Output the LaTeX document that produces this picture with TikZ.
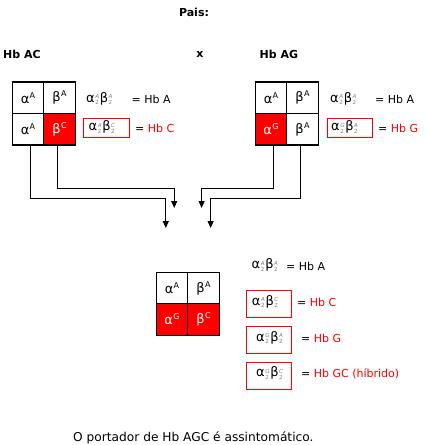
\documentclass[tikz,border=0pt]{standalone}
\usepackage{fontspec}
\setmainfont{DejaVu Sans}
\usetikzlibrary{arrows.meta}
\definecolor{hbred}{RGB}{255,0,0}
\definecolor{scrgray}{RGB}{128,128,128}
\newcommand\scr[2]{\kern0.6pt\raisebox{-2.8pt}{\fontsize{5.6}{6.2}\selectfont\color{scrgray}\begin{tabular}[b]{@{}l@{}}\textit{#1}\\#2\end{tabular}}\kern0.6pt}
\newcommand\gk[1]{{\fontsize{13}{13}\selectfont #1}}
\newcommand\fml[4]{\gk{α}\scr{#1}{#2}\gk{β}\scr{#3}{#4}}
\newcommand\cl[2]{\gk{#1}\kern0.3pt\raisebox{5pt}{\fontsize{8}{8}\selectfont #2}}
\begin{document}
\begin{tikzpicture}[x=1pt,y=-1pt,
  every node/.style={font=\fontsize{11}{13}\selectfont, inner sep=0pt},
  cell/.style={draw=black, line width=1.2pt, minimum size=31.5pt, fill=white},
  redcell/.style={cell, fill=hbred, text=white},
  hbbox/.style={draw=hbred, line width=0.9pt, minimum width=45.4pt, minimum height=19pt},
  bold/.style={font=\fontsize{11}{13}\selectfont\bfseries},
  conn/.style={line width=0.9pt, -{Triangle[length=7pt,width=6pt]}}
]
\useasboundingbox[fill=white] (0,0) rectangle (424,445);

% titles
\node[bold] (pais) at (194,12) {Pais:};
\node[bold, anchor=west] (hbac) at (3,54) {Hb AC};
\node[bold] (cross) at (200,54) {x};
\node[bold, anchor=west] (hbag) at (259.5,54) {Hb AG};

% left parent grid
\node[cell] (L11) at (28,97.75) {\cl{α}{A}};
\node[cell] (L12) at (59.5,97.75) {\cl{β}{A}};
\node[cell] (L21) at (28,129.25) {\cl{α}{A}};
\node[redcell] (L22) at (59.5,129.25) {\cl{β}{C}};

% right parent grid
\node[cell] (R11) at (271,97.75) {\cl{α}{A}};
\node[cell] (R12) at (302.5,97.75) {\cl{β}{A}};
\node[redcell] (R21) at (271,129.25) {\cl{α}{G}};
\node[cell] (R22) at (302.5,129.25) {\cl{β}{A}};

% left labels
\node[anchor=west] (lfa) at (86,99.5) {\fml{A}{2}{A}{2}};
\node[anchor=west] (lha) at (131.5,99.5) {= Hb A};
\node[hbbox] (lbox) at (106.5,127.5) {};
\node[anchor=west] (lfc) at (88.5,128) {\fml{A}{2}{C}{2}};
\node[anchor=west] (lhc) at (135,128) {= \textcolor{hbred}{Hb C}};

% right labels
\node[anchor=west] (rfa) at (330,99.5) {\fml{A}{2}{A}{2}};
\node[anchor=west] (rha) at (375,99.5) {= Hb A};
\node[hbbox] (rbox) at (350,127.5) {};
\node[anchor=west] (rfg) at (331,128) {\fml{G}{2}{A}{2}};
\node[anchor=west] (rhg) at (378,128) {= \textcolor{hbred}{Hb G}};

% arrow tips
\coordinate (t1) at (165.8,228);
\coordinate (t2) at (174.2,208);
\coordinate (t3) at (201.6,208);
\coordinate (t4) at (210.6,228);

\draw[conn] ([xshift=2.3pt]L21.south) -- ++(0,53) -| (t1);
\draw[conn] ([xshift=-1.8pt]L22.south) -- ++(0,43) -| (t2);
\draw[conn] ([xshift=2.7pt]R21.south) -- ++(0,43) -| (t3);
\draw[conn] ([xshift=-2.2pt]R22.south) -- ++(0,53) -| (t4);

% child grid
\node[cell] (C11) at (172,288) {\cl{α}{A}};
\node[cell] (C12) at (203.5,288) {\cl{β}{A}};
\node[redcell] (C21) at (172,319.5) {\cl{α}{G}};
\node[redcell] (C22) at (203.5,319.5) {\cl{β}{C}};

% child labels
\node[anchor=west] (cfa) at (251.5,266) {\fml{A}{2}{A}{2}};
\node[anchor=west] (cha) at (286,266) {= Hb A};

\node[hbbox, minimum height=26.7pt] (cbox1) at (269,303.7) {};
\node[anchor=west] (cfc) at (251.7,302.5) {\fml{A}{2}{C}{2}};
\node[anchor=west] (chc) at (297,302.5) {= \textcolor{hbred}{Hb C}};

\node[hbbox, minimum height=26.7pt] (cbox2) at (269,339.7) {};
\node[anchor=west] (cfg) at (256,338.5) {\fml{G}{2}{A}{2}};
\node[anchor=west] (chg) at (301,338.5) {= \textcolor{hbred}{Hb G}};

\node[hbbox, minimum height=27.3pt] (cbox3) at (269,375.7) {};
\node[anchor=west] (cfgc) at (256,374) {\fml{G}{2}{C}{2}};
\node[anchor=west] (chgc) at (301,374) {= \textcolor{hbred}{Hb GC (híbrido)}};

% footer
\node[anchor=west, font=\fontsize{12.2}{14}\selectfont] (foot) at (73,437.5) {O portador de Hb AGC é assintomático.};
\end{tikzpicture}
\end{document}
